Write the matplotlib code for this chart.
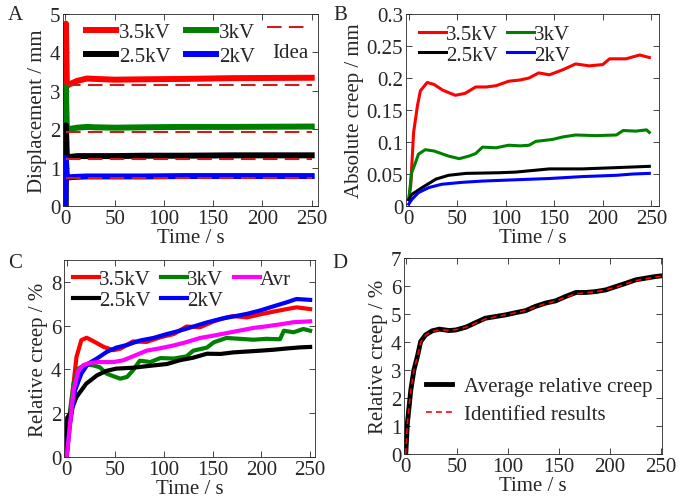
import numpy as np
import matplotlib
matplotlib.use('Agg')
import matplotlib.pyplot as plt
from matplotlib.lines import Line2D
from matplotlib.ticker import FuncFormatter

plt.rcParams['font.family'] = ['Liberation Serif', 'DejaVu Serif']
plt.rcParams['font.size'] = 15
plt.rcParams['text.color'] = '#262626'
plt.rcParams['axes.labelcolor'] = '#262626'

GREEN = '#008000'
IDEA = '#c81e1e'

# ---- panel A: displacement ----
tA = [0, 0.5, 1.5, 5, 12, 22, 30, 50, 80, 120, 170, 250]
dispA_35 = [0, 4.75, 3.13, 3.18, 3.26, 3.32, 3.31, 3.29, 3.30, 3.31, 3.33, 3.34]
dispA_3 = [0, 3.10, 1.98, 2.01, 2.04, 2.06, 2.05, 2.04, 2.05, 2.06, 2.06, 2.07]
dispA_25 = [0, 2.10, 1.27, 1.28, 1.30, 1.30, 1.30, 1.30, 1.31, 1.31, 1.32, 1.32]
dispA_2 = [0, 1.25, 0.74, 0.75, 0.76, 0.77, 0.77, 0.77, 0.77, 0.78, 0.78, 0.78]
tIdea = [1, 250]
idea = [3.16, 1.92, 1.22, 0.72]

# ---- panel B: absolute creep ----
tB35 = [0, 2, 5, 9, 12, 19, 26, 35, 48, 58, 69, 80, 90, 103, 115, 124, 134, 145,
        159, 172, 186, 200, 207, 224, 238, 248]
cB35 = [0.01, 0.031, 0.115, 0.157, 0.18, 0.193, 0.19, 0.181, 0.173, 0.176, 0.186,
        0.186, 0.188, 0.195, 0.197, 0.2, 0.208, 0.205, 0.213, 0.222, 0.219, 0.221,
        0.23, 0.23, 0.236, 0.232]
tB3 = [0, 3, 7, 10, 17, 26, 41, 52, 62, 69, 76, 90, 103, 115, 124, 131, 148, 159,
       172, 193, 214, 221, 234, 245, 248]
cB3 = [0.01, 0.052, 0.068, 0.081, 0.088, 0.086, 0.078, 0.074, 0.078, 0.082, 0.092,
       0.091, 0.095, 0.094, 0.095, 0.101, 0.104, 0.108, 0.111, 0.11, 0.111, 0.118,
       0.117, 0.119, 0.115]
tB25 = [0, 3, 14, 28, 41, 59, 93, 110, 131, 145, 179, 214, 248]
cB25 = [0.01, 0.018, 0.029, 0.042, 0.048, 0.051, 0.052, 0.053, 0.056, 0.058, 0.058,
        0.06, 0.062]
tB2 = [0, 3, 10, 21, 34, 55, 76, 110, 145, 179, 214, 231, 248]
cB2 = [0.003, 0.01, 0.021, 0.029, 0.034, 0.037, 0.039, 0.041, 0.043, 0.046, 0.048,
       0.05, 0.051]

# ---- panel C: relative creep ----
tC35 = [0, 3.4, 7, 10, 15, 20.5, 27, 38, 48, 55, 68, 82, 96, 110, 123, 137, 151,
        164, 171, 185, 199, 212, 226, 236, 250]
rC35 = [0.15, 1.83, 3.35, 4.57, 5.34, 5.45, 5.3, 5.03, 4.88, 4.95, 5.28, 5.26, 5.47,
        5.62, 5.96, 5.93, 6.2, 6.38, 6.44, 6.38, 6.52, 6.64, 6.76, 6.84, 6.76]
tC3 = [0, 3.4, 7, 12, 19, 27, 34, 41, 48, 55, 62, 68, 75, 86, 96, 110, 123, 130,
       144, 151, 164, 178, 192, 205, 219, 223, 233, 243, 250]
rC3 = [0, 2.13, 3.35, 4.04, 4.22, 4.19, 4.1, 3.81, 3.69, 3.58, 3.66, 3.96, 4.4, 4.34,
       4.52, 4.5, 4.6, 4.86, 5.0, 5.24, 5.44, 5.4, 5.36, 5.4, 5.38, 5.77, 5.7, 5.85, 5.77]
tC25 = [0, 0.5, 3.4, 10, 20, 31, 41, 51, 68, 86, 103, 116, 130, 144, 158, 171, 185,
        199, 212, 226, 240, 250]
rC25 = [0, 1.8, 1.98, 2.74, 3.35, 3.73, 3.94, 4.04, 4.08, 4.17, 4.25, 4.42, 4.54,
        4.72, 4.71, 4.78, 4.82, 4.86, 4.9, 4.96, 5.01, 5.03]
tC2 = [0, 3.4, 8.6, 15, 22, 31, 41, 51, 62, 75, 89, 103, 116, 130, 144, 158, 171,
       185, 199, 212, 226, 236, 250]
rC2 = [0.08, 1.52, 3.05, 3.81, 4.27, 4.5, 4.8, 5.0, 5.12, 5.32, 5.44, 5.62, 5.77,
       5.96, 6.15, 6.31, 6.42, 6.54, 6.7, 6.88, 7.07, 7.22, 7.18]
tCavr = [0, 3.4, 7, 12, 17, 24, 34, 48, 58, 68, 82, 96, 110, 123, 137, 151, 164,
         178, 192, 205, 219, 233, 250]
rCavr = [0, 1.52, 3.05, 3.96, 4.19, 4.3, 4.34, 4.34, 4.42, 4.6, 4.86, 4.97, 5.1, 5.25,
         5.44, 5.55, 5.66, 5.78, 5.9, 5.97, 6.06, 6.16, 6.2]

# ---- panel D: average vs identified ----
tD = [0, 1.6, 5, 8, 11.4, 14.7, 19.6, 26, 33, 42.5, 49, 59, 69, 78, 88, 98, 108,
      117.6, 127, 137, 147, 157, 167, 176.5, 186, 196, 206, 216, 225.5, 235, 245, 250]
avgD = [0, 1.1, 2.29, 3.0, 3.48, 4.02, 4.26, 4.4, 4.46, 4.41, 4.43, 4.53, 4.7, 4.85,
        4.91, 4.97, 5.05, 5.12, 5.27, 5.39, 5.47, 5.63, 5.77, 5.77, 5.8, 5.86, 5.98,
        6.1, 6.22, 6.28, 6.34, 6.36]
fitD = [0, 1.1, 2.29, 3.0, 3.48, 4.0, 4.25, 4.38, 4.43, 4.42, 4.44, 4.53, 4.68, 4.82,
        4.9, 4.97, 5.05, 5.13, 5.25, 5.37, 5.47, 5.6, 5.72, 5.76, 5.8, 5.86, 5.96,
        6.08, 6.19, 6.26, 6.32, 6.35]

fig = plt.figure(figsize=(6.98, 5.02), dpi=100)

def style(ax):
    ax.tick_params(direction='in', top=True, right=True, length=4, width=0.6,
                   labelsize=15, pad=2, colors='#262626')
    for s in ax.spines.values():
        s.set_linewidth(0.6)
        s.set_color('#262626')
    ax.set_xticks([0, 50, 100, 150, 200, 250])
    ax.set_xlabel('Time / s', labelpad=0)
    ax.yaxis.set_major_formatter(FuncFormatter(lambda v, p: '%g' % v))

# A
axA = fig.add_axes([0.0903, 0.5876, 0.3653, 0.3825])
axA.plot(tA, dispA_35, color='r', lw=4.3, label='3.5kV', solid_joinstyle='round')
axA.plot(tA, dispA_3, color=GREEN, lw=4.3, label='3kV', solid_joinstyle='round')
axA.plot(tA, dispA_25, color='k', lw=4.3, label='2.5kV', solid_joinstyle='round')
axA.plot(tA, dispA_2, color='b', lw=4.3, label='2kV', solid_joinstyle='round')
for v in idea:
    axA.plot(tIdea, [v, v], color=IDEA, lw=1.5, dashes=(7, 3.5))
axA.set_xlim(-2.4, 256.4)
axA.set_ylim(0, 5)
axA.set_yticks([0, 1, 2, 3, 4, 5])
axA.set_ylabel('Displacement / mm', labelpad=2)
style(axA)
hA, lA = axA.get_legend_handles_labels()
order = [0, 2, 1, 3]
axA.legend([hA[i] for i in order], [lA[i] for i in order], ncol=2, frameon=False,
           loc='upper left', bbox_to_anchor=(0.09, 0.955), borderpad=0, borderaxespad=0,
           handlelength=1.45, handletextpad=0.15, columnspacing=0.7, labelspacing=0.22,
           fontsize=15)
axA.add_line(Line2D([0.8, 0.97], [0.93, 0.93], transform=axA.transAxes,
                    color=IDEA, lw=1.5, dashes=(7, 3.5)))
axA.text(0.82, 0.80, 'Idea', transform=axA.transAxes, ha='left', va='center', fontsize=15)
fig.text(15 / 698, 1 - 15 / 502, 'A', ha='center', va='center', fontsize=15)

# B
axB = fig.add_axes([0.5817, 0.5876, 0.3625, 0.3825])
axB.plot(tB35, cB35, color='r', lw=2.2, label='3.5kV')
axB.plot(tB3, cB3, color=GREEN, lw=2.2, label='3kV')
axB.plot(tB25, cB25, color='k', lw=2.2, label='2.5kV')
axB.plot(tB2, cB2, color='b', lw=2.2, label='2kV')
axB.set_xlim(-2.8, 258)
axB.set_ylim(0, 0.3)
axB.set_yticks([0, 0.05, 0.1, 0.15, 0.2, 0.25, 0.3])
axB.set_ylabel('Absolute creep / mm', labelpad=2)
style(axB)
hB, lB = axB.get_legend_handles_labels()
axB.legend([hB[i] for i in order], [lB[i] for i in order], ncol=2, frameon=False,
           loc='upper left', bbox_to_anchor=(0.05, 0.945), borderpad=0, borderaxespad=0,
           handlelength=1.3, handletextpad=0.0, columnspacing=0.45, labelspacing=0.05,
           fontsize=15)
fig.text(340 / 698, 1 - 15 / 502, 'B', ha='center', va='center', fontsize=15)

# C
axC = fig.add_axes([0.0917, 0.0876, 0.3596, 0.3924])
axC.plot(tC35, rC35, color='r', lw=3, label='3.5kV')
axC.plot(tC3, rC3, color=GREEN, lw=3, label='3kV')
axC.plot(tC25, rC25, color='k', lw=3, label='2.5kV')
axC.plot(tC2, rC2, color='b', lw=3, label='2kV')
axC.plot(tCavr, rCavr, color='#ff00ff', lw=3, label='Avr')
axC.set_xlim(-2.8, 255)
axC.set_ylim(0, 9)
axC.set_yticks([0, 2, 4, 6, 8])
axC.set_ylabel('Relative creep / %', labelpad=2)
style(axC)
hC, lC = axC.get_legend_handles_labels()
orderC = [0, 2, 1, 3, 4]
axC.legend([hC[i] for i in orderC], [lC[i] for i in orderC], ncol=3, frameon=False,
           loc='upper left', bbox_to_anchor=(0.035, 0.95), borderpad=0, borderaxespad=0,
           handlelength=1.25, handletextpad=0.0, columnspacing=0.5, labelspacing=0.05,
           fontsize=15)
fig.text(15 / 698, 1 - 263 / 502, 'C', ha='center', va='center', fontsize=15)

# D
axD = fig.add_axes([0.5788, 0.0936, 0.3696, 0.3904])
axD.plot(tD, avgD, color='k', lw=3.5, label='Average relative creep')
axD.plot(tD, fitD, color='r', lw=1.2, dashes=(3.5, 2.5), label='Identified results')
axD.set_xlim(-1.7, 251.3)
axD.set_ylim(0, 7)
axD.set_yticks([0, 1, 2, 3, 4, 5, 6, 7])
axD.set_ylabel('Relative creep / %', labelpad=2)
style(axD)
axD.legend(frameon=False, loc='upper left', bbox_to_anchor=(0.085, 0.395), borderpad=0,
           borderaxespad=0, handlelength=1.25, handletextpad=0.6, labelspacing=0.4,
           fontsize=15)
fig.text(340 / 698, 1 - 263 / 502, 'D', ha='center', va='center', fontsize=15)

fig.savefig('out.png', dpi=100)
